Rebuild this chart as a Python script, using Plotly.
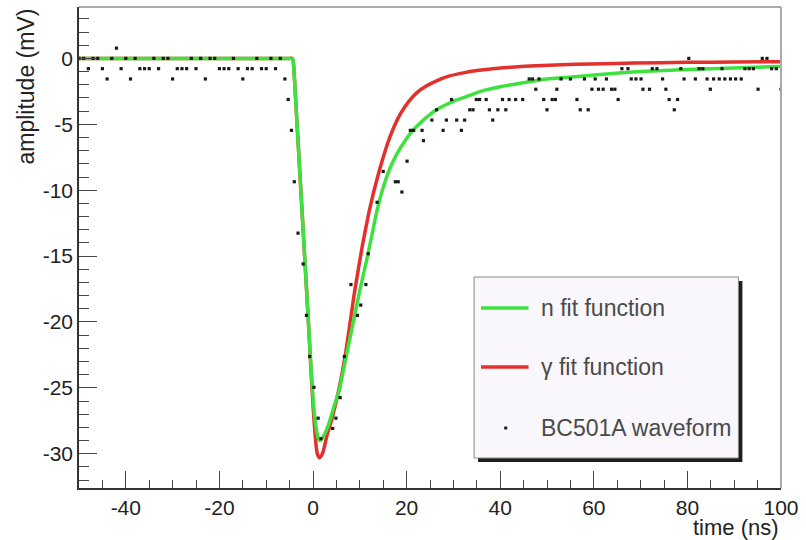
import plotly.graph_objects as go

# ---------------- data ----------------
# n (neutron) fit function
n_fit_t = [-50, -40, -30, -20, -10, -5, -4.4, -4.2, -4.0, -3.6, -3, -2, -1, -0.5, 0, 0.4,
           0.8, 1.1, 1.4, 1.8, 2.5, 3.5, 4.5, 5.6, 7, 8.5, 10, 11.6, 12.7, 13.7, 15, 16.5,
           18, 19.4, 21, 22.9, 24.5, 26.4, 28.5, 30.7, 33.5, 36.3, 40, 43.3, 49, 56, 62,
           70, 80, 90, 100]
n_fit_v = [0, 0, 0, 0, 0, 0, 0, -0.3, -1.3, -3.8, -7.5, -13.7, -19.9, -23.0, -25.7, -27.3,
           -28.3, -28.8, -29.0, -28.9, -28.5, -27.6, -26.4, -25.2, -22.8, -20.2, -17.6,
           -15.1, -13.2, -11.5, -9.8, -8.3, -7.2, -6.4, -5.6, -4.9, -4.4, -3.9, -3.5,
           -3.15, -2.8, -2.45, -2.15, -1.95, -1.6, -1.4, -1.2, -1.0, -0.85, -0.72, -0.62]

# gamma fit function
g_fit_t = [-50, -40, -30, -20, -10, -5, -4.4, -4.2, -4.0, -3.6, -3, -2, -1, -0.5, 0, 0.4,
           0.7, 1.0, 1.3, 1.7, 2.2, 3, 4, 5.6, 7, 8.8, 10.5, 12, 13.8, 15.9, 17.3, 18.7,
           20.4, 22.2, 24.2, 26.4, 29.0, 32.1, 35.0, 38.4, 43.0, 47.6, 56, 68.7, 80, 90, 100]
g_fit_v = [0, 0, 0, 0, 0, 0, 0, -0.3, -1.3, -3.8, -7.5, -13.7, -19.9, -23.2, -26.3, -28.3,
           -29.5, -30.1, -30.3, -30.2, -29.8, -28.6, -27.4, -25.0, -22.3, -17.9, -14.3,
           -11.6, -9.0, -6.5, -5.2, -4.2, -3.3, -2.6, -2.1, -1.7, -1.35, -1.1, -0.92,
           -0.78, -0.65, -0.56, -0.45, -0.35, -0.3, -0.27, -0.25]

# BC501A waveform samples (ADC-quantised, step ~0.78 mV)
wf_t = [-50, -49, -48, -47, -46, -45, -44, -43, -42, -41, -40, -39, -38, -37, -36, -35,
        -34, -33, -32, -31, -30, -29, -28, -27, -26, -25, -24, -23, -22, -21, -20, -19,
        -18, -17, -16, -15, -14, -13, -12, -11, -10, -9, -8, -7, -6,
        -5.3, -4.6, -4.0, -3.2, -2.1, -1.4, -0.7, 0.2, 1.1, 1.7, 4.2, 4.9, 5.8, 6.7, 8.1,
        9.5, 10.2, 11.3, 11.8, 13.7, 15.0, 17.6, 18.2, 19.0, 20.1, 20.8, 21.5, 23.3, 23.6,
        25.4, 26.4, 27.8, 28.5, 29.6, 30.7, 31.7, 32.4, 33.5, 34.2, 34.9, 35.6, 37.0, 37.7,
        38.4, 39.5, 40.5, 41.2, 41.9, 43.3, 44.8, 46.2, 46.9, 47.6, 48.3, 49.3, 50.0, 51.1,
        51.8, 52.1, 53.0, 55.0, 56.4, 57.1, 58.0, 58.8, 59.6, 60.3, 61.0, 62.0, 62.7, 63.8,
        64.5, 65.2, 66.0, 67.3, 68.0, 69.0, 70.1, 70.5, 71.9, 72.5, 73.5, 74.7, 75.4, 76.1,
        77.2, 77.9, 78.6, 79.3, 80.3, 81.7, 82.5, 83.3, 84.2, 84.9, 85.6, 86.8, 87.4, 88.0,
        89.2, 90.3, 91.5, 92.3, 93.2, 94.1, 95.1, 96.0, 97.0, 98.0, 99.0, 100.0]
wf_v = [0, 0, -0.78, 0, 0, -0.78, -1.56, 0, 0.78, -0.78, 0, -1.56, 0, -0.78, -0.78, -0.78,
        0, -0.78, 0, 0, -1.56, -0.78, -0.78, -0.78, 0, -0.78, 0, -1.56, 0, 0, -0.78, -0.78,
        -0.78, 0, -0.78, -1.56, -0.78, -0.78, 0, -0.78, -0.78, 0, -0.78, 0, -1.56,
        -3.12, -5.46, -9.36, -13.26, -15.6, -19.5, -22.62, -24.96, -27.3, -28.86, -28.08,
        -27.3, -25.74, -22.62, -17.16, -19.5, -18.72, -17.16, -14.82, -10.92, -8.58, -9.36,
        -9.36, -10.14, -7.8, -5.46, -5.46, -5.46, -6.24, -4.68, -3.9, -5.46, -4.68, -3.12,
        -4.68, -5.46, -4.68, -3.9, -3.9, -3.12, -3.12, -3.12, -3.9, -4.68, -3.9, -3.12,
        -3.9, -3.12, -3.12, -3.12, -1.56, -1.56, -2.34, -1.56, -3.12, -3.9, -3.12, -3.12,
        -2.34, -1.56, -1.56, -3.12, -3.9, -1.56, -3.9, -2.34, -1.56, -2.34, -2.34, -1.56,
        -2.34, -2.34, -3.12, -0.78, -0.78, -1.56, -1.56, -1.56, -2.34, -2.34, -0.78, -0.78,
        -1.56, -2.34, -3.12, -3.9, -3.12, -0.78, -1.56, 0.0, -1.56, -0.78, -0.78, -1.56,
        -2.34, -1.56, -1.56, -0.78, -1.56, -1.56, -1.56, -1.56, -0.78, -0.78, -0.78, -2.34,
        0.0, 0.0, -0.78, -0.78, -2.34]

x_range = [-50, 100]
y_range = [-32.6, 3.9]
x_tickvals = [-40, -20, 0, 20, 40, 60, 80, 100]
x_ticktext = ["-40", "-20", "0", "20", "40", "60", "80", "100"]
y_tickvals = [-30, -25, -20, -15, -10, -5, 0]
y_ticktext = ["-30", "-25", "-20", "-15", "-10", "-5", "0"]

legend_labels = ["n fit function", "\u03b3 fit function", "BC501A waveform"]

GREEN = "#3ee23e"
RED = "#e3302c"

# ---------------- figure ----------------
W, H = 806, 540
ML, MR, MT, MB = 79, 18, 7, 52
PW, PH = W - ML - MR, H - MT - MB


def px(xp):
    return (xp - ML) / PW


def py(yp):
    return (H - MB - yp) / PH


fig = go.Figure()
fig.add_trace(go.Scatter(x=g_fit_t, y=g_fit_v, mode="lines", name=legend_labels[1],
                         line=dict(color=RED, width=3.5, shape="spline", smoothing=0.4)))
fig.add_trace(go.Scatter(x=n_fit_t, y=n_fit_v, mode="lines", name=legend_labels[0],
                         line=dict(color=GREEN, width=3.5, shape="spline", smoothing=0.4)))
fig.add_trace(go.Scatter(x=wf_t, y=wf_v, mode="markers", name=legend_labels[2],
                         marker=dict(symbol="square", size=3.2, color="#1a1a1a")))

FONT = "Liberation Sans, Arial, sans-serif"
axis_common = dict(
    showgrid=False, zeroline=False, showline=True, linecolor="#333", linewidth=1.5,
    ticks="inside", tickcolor="#444", tickwidth=1.2, tickmode="array",
    tickfont=dict(family=FONT, size=21, color="#222"),
)

fig.update_xaxes(range=x_range, tickvals=x_tickvals, ticktext=x_ticktext, ticklen=17,
                 minor=dict(tickmode="linear", tick0=0, dtick=5, ticks="inside", ticklen=8,
                            tickcolor="#444", tickwidth=1.2),
                 **axis_common)
fig.update_yaxes(range=y_range, tickvals=y_tickvals, ticktext=y_ticktext, ticklen=18,
                 minor=dict(tickmode="linear", tick0=0, dtick=1, ticks="inside", ticklen=10,
                            tickcolor="#444", tickwidth=1.2),
                 **axis_common)

shapes = [
    # top and right frame lines
    dict(type="line", xref="paper", yref="paper", x0=0, x1=1, y0=1, y1=1,
         line=dict(color="#aaaaaa", width=2)),
    dict(type="line", xref="paper", yref="paper", x0=1, x1=1, y0=0, y1=1,
         line=dict(color="#aaaaaa", width=2)),
    # legend shadow
    dict(type="rect", xref="paper", yref="paper", x0=px(482), x1=px(749), y0=py(462), y1=py(281),
         line=dict(width=0), fillcolor="#1e1e1e"),
    # legend box
    dict(type="rect", xref="paper", yref="paper", x0=px(478), x1=px(745), y0=py(458), y1=py(277),
         line=dict(color="#8a8a8a", width=1), fillcolor="#f9f7fb"),
    # legend samples
    dict(type="line", xref="paper", yref="paper", x0=px(485), x1=px(533), y0=py(308), y1=py(308),
         line=dict(color=GREEN, width=3.5)),
    dict(type="line", xref="paper", yref="paper", x0=px(485), x1=px(533), y0=py(367), y1=py(367),
         line=dict(color=RED, width=3.5)),
    dict(type="rect", xref="paper", yref="paper", x0=px(508.5), x1=px(511.5), y0=py(429.5), y1=py(426.5),
         line=dict(width=0), fillcolor="#1a1a1a"),
]

annotations = [
    dict(text="amplitude (mV)", xref="paper", yref="paper", x=px(25), y=1, xanchor="center",
         yanchor="top", textangle=-90, showarrow=False,
         font=dict(family=FONT, size=23, color="#222")),
    dict(text="time (ns)", xref="paper", yref="paper", x=1, y=py(527), xanchor="right",
         yanchor="middle", showarrow=False, font=dict(family=FONT, size=22, color="#222")),
]
for lab, yp in zip(legend_labels, [308, 367, 428]):
    annotations.append(dict(text=lab, xref="paper", yref="paper", x=px(544), y=py(yp),
                            xanchor="left", yanchor="middle", showarrow=False,
                            font=dict(family=FONT, size=23, color="#4a4a4a")))

fig.update_layout(
    width=W, height=H,
    margin=dict(l=ML, r=MR, t=MT, b=MB),
    paper_bgcolor="white", plot_bgcolor="white",
    showlegend=False,
    shapes=shapes, annotations=annotations,
)

fig.write_html("out.html")
